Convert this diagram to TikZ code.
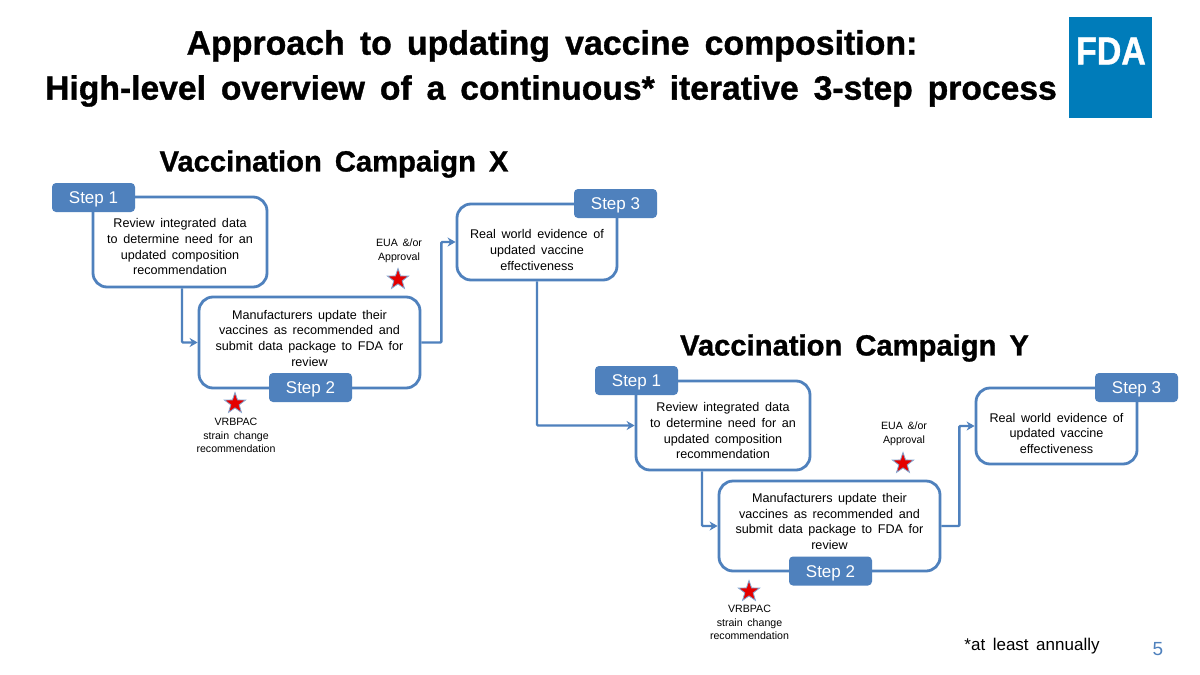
\documentclass[tikz,border=0pt]{standalone}
\usepackage{fontspec}
\setmainfont[WordSpace=1.6,BoldFeatures={FakeBold=1}]{Liberation Sans}
\newfontfamily\tagfont{Liberation Sans}
\usetikzlibrary{shapes.geometric,arrows.meta,positioning}
\definecolor{flow}{HTML}{4F81BD}
\definecolor{fdablue}{HTML}{007CBA}
\newcommand{\topgap}[1]{\rule{0pt}{#1}}
\newcommand{\botgap}[1]{\rule[-#1]{0pt}{0pt}}
\tikzset{
  x=1pt,y=-1pt,
  flowbox/.style={draw=flow,line width=2.8pt,fill=white,rounded corners=14pt,inner sep=0pt,align=center,font=\fontsize{12.6}{15.7}\selectfont,text=black},
  tag/.style={fill=flow,rounded corners=4pt,minimum width=83pt,minimum height=29pt,inner sep=0pt,text=white,font=\tagfont\fontsize{17}{19}\selectfont},
  heading/.style={inner sep=0pt,font=\fontsize{33.9}{40}\selectfont\bfseries,text=black},
  subhead/.style={inner sep=0pt,font=\fontsize{29.2}{34}\selectfont\bfseries,text=black},
  note/.style={inner sep=0pt,align=center,font=\fontsize{10.6}{13.7}\selectfont,text=black},
  mstar/.style={star,star points=5,star point ratio=2.5,fill=red!90!black,draw=flow!70,line width=.8pt,minimum size=22pt,inner sep=0pt},
  conn/.style={draw=flow,line width=2.4pt,-{Stealth[length=8pt,width=9pt]}},
}
\begin{document}
\begin{tikzpicture}
\useasboundingbox (0,0) rectangle (1200,675);
\fill[white] (0,0) rectangle (1200,675);
\node[heading] (t1) at (552,46) {Approach to updating vaccine composition:};
\node[heading,font=\fontsize{33.65}{40}\selectfont\bfseries] (t2) at (551,91) {High-level overview of a continuous* iterative 3-step process};
\node[fill=fdablue,minimum width=83pt,minimum height=101pt,inner sep=0pt] (logo) at (1110.5,67.5) {};
\node[text=white,inner sep=0pt,xscale=.87,font=\fontsize{39}{40}\selectfont\bfseries] (fda) at (1111,51) {FDA};
\node[subhead] (cx) at (334,164) {Vaccination Campaign X};
\node[subhead] (cy) at (854.5,348) {Vaccination Campaign Y};
% boxes
\node[flowbox,minimum width=174pt,minimum height=90pt] (a1) at (180,242) {\topgap{19pt}Review integrated data\\to determine need for an\\updated composition\\recommendation};
\node[flowbox,minimum width=221pt,minimum height=91pt] (a2) at (309.5,342.5) {Manufacturers update their\\vaccines as recommended and\\submit data package to FDA for\\review\botgap{9pt}};
\node[flowbox,minimum width=160pt,minimum height=76pt] (a3) at (537,242) {\topgap{25pt}Real world evidence of\\updated vaccine\\effectiveness};
\node[flowbox,minimum width=174pt,minimum height=89pt] (b1) at (723,425.5) {\topgap{20pt}Review integrated data\\to determine need for an\\updated composition\\recommendation};
\node[flowbox,minimum width=221pt,minimum height=90pt] (b2) at (829.5,526) {Manufacturers update their\\vaccines as recommended and\\submit data package to FDA for\\review\botgap{9pt}};
\node[flowbox,minimum width=161pt,minimum height=76pt] (b3) at (1056.5,426) {\topgap{24pt}Real world evidence of\\updated vaccine\\effectiveness};
% connectors
\draw[conn,rounded corners=1pt] ([xshift=2pt]a1.south) |- (a2.west);
\draw[conn,rounded corners=1pt] (a2.east) -- ++(20,0) |- (a3.west);
\draw[conn,rounded corners=1pt] (a3.south) |- (b1.west);
\draw[conn,rounded corners=1pt] ([xshift=-21pt]b1.south) |- (b2.west);
\draw[conn,rounded corners=1pt] (b2.east) -- ++(18,0) |- (b3.west);
% tags
\node[tag] (s1a) at (93.5,197.5) {\topgap{16pt}Step 1};
\node[tag] (s2a) at (310.5,387.5) {\topgap{16pt}Step 2};
\node[tag] (s3a) at (615.5,203.5) {\topgap{16pt}Step 3};
\node[tag] (s1b) at (636.5,380.5) {\topgap{16pt}Step 1};
\node[tag] (s2b) at (830.5,571) {\topgap{16pt}Step 2};
\node[tag] (s3b) at (1136.5,387.5) {\topgap{16pt}Step 3};
% stars and notes
\node[mstar] (st1) at (398,279.5) {};
\node[mstar] (st2) at (235,403.5) {};
\node[mstar] (st3) at (903,463.5) {};
\node[mstar] (st4) at (749,591.5) {};
\node[note] (n1) at (399,251) {EUA \&/or\\Approval};
\node[note] (n2) at (236,435.5) {VRBPAC\\strain change\\recommendation};
\node[note] (n3) at (904,434) {EUA \&/or\\Approval};
\node[note] (n4) at (749.5,622.5) {VRBPAC\\strain change\\recommendation};
\node[inner sep=0pt,font=\fontsize{17}{20}\selectfont,text=black] (foot) at (1032,646) {*at least annually};
\node[inner sep=0pt,font=\fontsize{19}{22}\selectfont,text=flow] (pg) at (1158,649) {5};
\end{tikzpicture}
\end{document}
